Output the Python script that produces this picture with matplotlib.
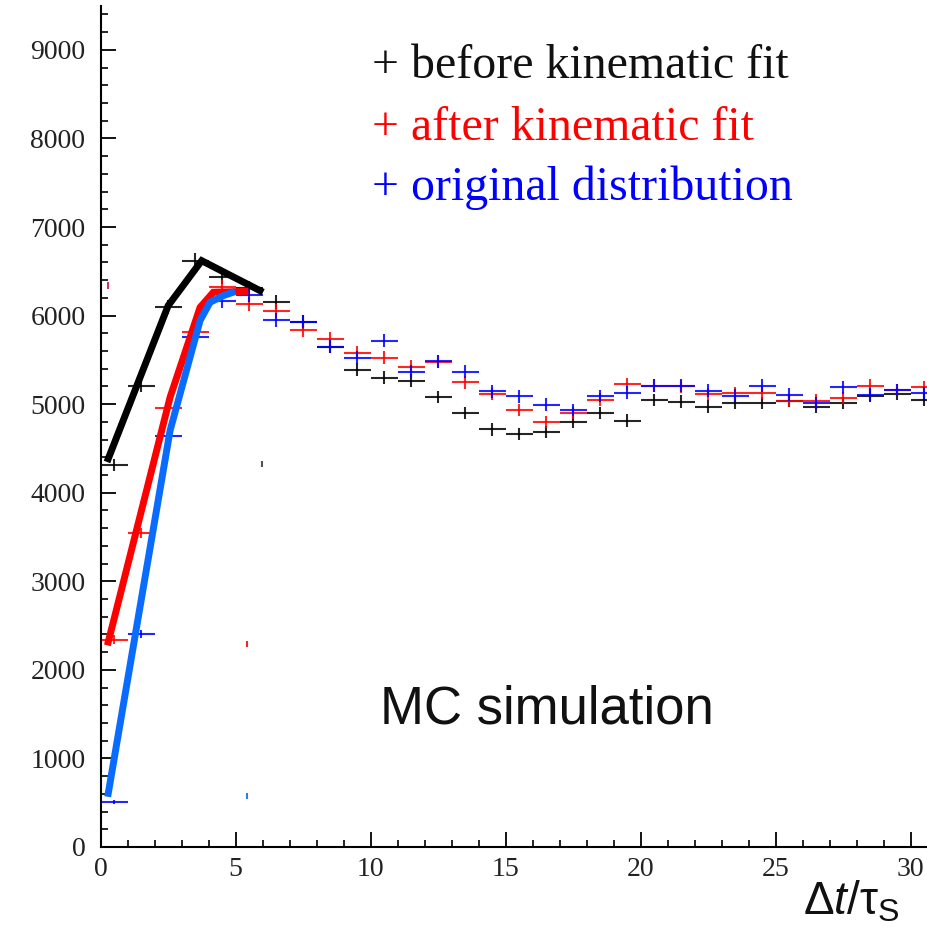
import numpy as np
import matplotlib
matplotlib.use("Agg")
import matplotlib.pyplot as plt
from matplotlib.ticker import MultipleLocator

# ---- data ----
bin_centers = np.arange(0.5, 31.0, 1.0)
before_fit = [4310, 5210, 6093, 6620, 6440, 6310, 6150, 5930, 5650, 5387,
              5297, 5267, 5079, 4898, 4714, 4665, 4683, 4796, 4898, 4815,
              5047, 5028, 4973, 5014, 5014, 5041, 4973, 5014, 5097, 5115, 5047]
after_fit = [2340, 3545, 4955, 5820, 6320, 6130, 6050, 5838, 5736, 5583,
             5523, 5425, 5481, 5248, 5115, 4935, 4796, 4898, 5050, 5227,
             5210, 5202, 5115, 5126, 5126, 5041, 5041, 5071, 5210, 5161, 5191]
original = [507, 2405, 4639, 5755, 6169, 6232, 5951, 5932, 5650, 5523,
            5718, 5368, 5485, 5368, 5145, 5088, 4996, 4935, 5091, 5131,
            5210, 5210, 5154, 5097, 5210, 5108, 5014, 5191, 5108, 5161, 5126]

# thick curve vertices
black_curve_x = [0.28, 2.50, 3.74, 5.90]
black_curve_y = [4384, 6113, 6620, 6282]
red_curve_x = [0.28, 2.57, 3.68, 4.17, 5.34]
red_curve_y = [2315, 5078, 6093, 6263, 6274]
blue_curve_x = [0.28, 2.57, 3.68, 4.05, 4.54, 4.86]
blue_curve_y = [606, 4703, 5944, 6150, 6225, 6259]

legend_labels = ["+ before kinematic fit", "+ after kinematic fit", "+ original distribution"]

W = 927
fig = plt.figure(figsize=(W / 100, W / 100), dpi=100)
ax = fig.add_axes([100.7 / W, 80 / W, (W - 100.7) / W, (847 - 5.6) / W])

serif = "Liberation Serif"

for vals, col in [(before_fit, "#000000"), (after_fit, "#ff0000"), (original, "#0000ff")]:
    v = np.array(vals, dtype=float)
    ax.errorbar(bin_centers, v, xerr=0.5, yerr=np.sqrt(v), fmt="none",
                ecolor=col, elinewidth=1.5, capsize=0, alpha=0.85, zorder=2)

ax.plot(black_curve_x, black_curve_y, color="#000000", lw=5, solid_joinstyle="miter", zorder=3)
ax.plot(red_curve_x, red_curve_y, color="#ff0000", lw=5, solid_joinstyle="miter", zorder=3)
ax.plot(blue_curve_x, blue_curve_y, color="#0a6cff", lw=5, solid_joinstyle="miter", zorder=3)

# small stray marks
ax.vlines([5.96], [4290], [4360], color="#555555", lw=1.5)
ax.vlines([5.4], [2260], [2330], color="#ff2020", lw=1.5)
ax.vlines([5.4], [540], [610], color="#2a7cff", lw=1.5)
ax.vlines([0.28], [6300], [6380], color="#d0306a", lw=1.5)

ax.set_xlim(0, (W - 100.7) / 27.0)
ax.set_ylim(0, 9500)
ax.spines["top"].set_visible(False)
ax.spines["right"].set_visible(False)
ax.spines["left"].set_linewidth(1.5)
ax.spines["bottom"].set_linewidth(1.5)
ax.xaxis.set_major_locator(MultipleLocator(5))
ax.xaxis.set_minor_locator(MultipleLocator(1))
ax.yaxis.set_major_locator(MultipleLocator(1000))
ax.yaxis.set_minor_locator(MultipleLocator(200))
ax.tick_params(which="major", direction="in", length=10.5, width=1.3)
ax.tick_params(which="minor", direction="in", length=5.2, width=1.2)
ax.set_xticks([0, 5, 10, 15, 20, 25, 30])
ax.set_xticklabels(["0", "5", "10", "15", "20", "25", "30"], fontfamily=serif, fontsize=20,
                   color="#222222")
ax.set_yticks(range(0, 10000, 1000))
ax.set_yticklabels([str(v) for v in range(0, 10000, 1000)], fontfamily=serif, fontsize=20,
                   color="#222222")
ax.tick_params(axis="y", pad=11)
ax.tick_params(axis="x", pad=7)

cols = ["#111111", "#ff0000", "#0000ff"]
ys = [66, 128, 188]
for lab, c, yy in zip(legend_labels, cols, ys):
    fig.text(372 / W, 1 - yy / W, lab, color=c, fontsize=34.5, fontfamily=serif,
             ha="left", va="center")

fig.text(380 / W, 1 - 710 / W, "MC simulation", fontsize=38, fontfamily="Liberation Sans",
         ha="left", va="center", color="#111111")

plt.rcParams["mathtext.fontset"] = "custom"
plt.rcParams["mathtext.rm"] = "Liberation Sans"
plt.rcParams["mathtext.it"] = "Liberation Sans:italic"
fig.text(803 / W, 1 - 915 / W, r"$\Delta t/\mathrm{\tau}_{\mathrm{S}}$", fontsize=33,
         ha="left", va="baseline", color="#111111")

fig.savefig("out.png", dpi=100)
